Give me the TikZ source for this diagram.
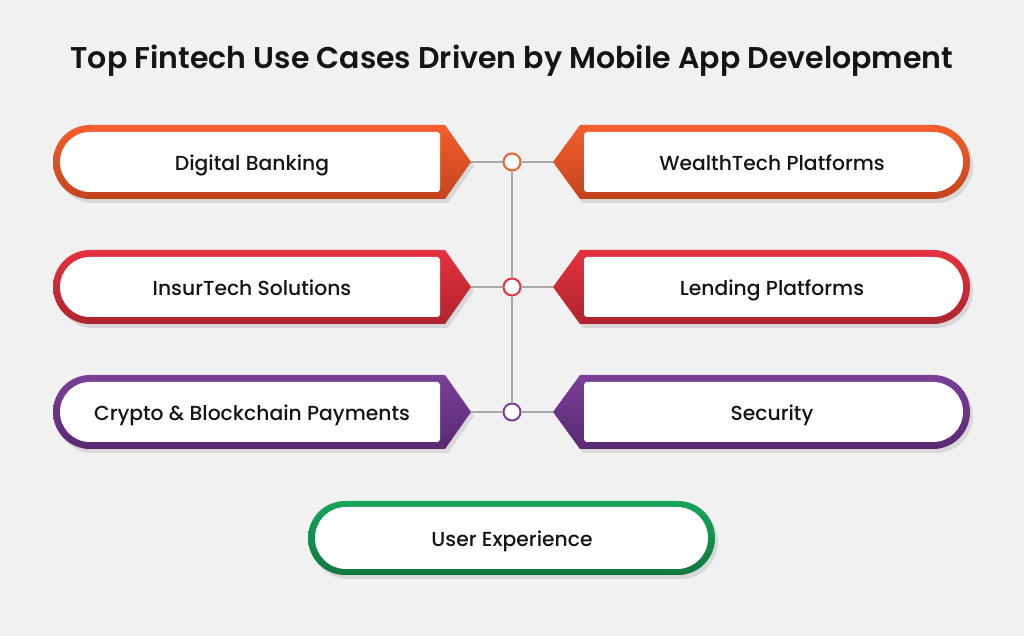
\documentclass[tikz,border=0pt]{standalone}
\usepackage{fontspec}
\setmainfont{Poppins}
\newfontfamily\cardfont{Poppins Medium}
\newfontfamily\headfont{Poppins SemiBold}
\usetikzlibrary{positioning}
\definecolor{pagebg}{HTML}{F1F1F1}
\definecolor{linkgray}{HTML}{A9A9A9}
\definecolor{inktext}{HTML}{141414}
\definecolor{orangeA}{HTML}{F55E2C}
\definecolor{orangeB}{HTML}{C3441E}
\definecolor{redA}{HTML}{E5323F}
\definecolor{redB}{HTML}{AE242E}
\definecolor{purpleA}{HTML}{7B3F98}
\definecolor{purpleB}{HTML}{592A72}
\definecolor{greenA}{HTML}{17A65A}
\definecolor{greenB}{HTML}{0F7840}
\tikzset{
  cardtext/.style={font=\cardfont\fontsize{20.3}{24}\selectfont,text=inktext,anchor=base},
  hub/.style={circle,draw=#1,line width=2pt,fill=white,minimum size=17pt,inner sep=0pt},
  link/.style={draw=linkgray,line width=1.2pt},
  cardshadow/.style={fill=black,opacity=0.10},
}
% card pointing right, to the spine
\newcommand{\leftcard}[4]{%
  \fill[cardshadow] (93,{#2+33}) -- (448,{#2+33}) -- (474,{#2-4}) -- (448,{#2-41})
    -- (93,{#2-41}) arc[start angle=270,end angle=90,radius=37pt] -- cycle;
  \shade[top color=#3A,bottom color=#3B] (90,{#2+37}) -- (445,{#2+37})
    -- (471,#2) coordinate (#1-tip) -- (445,{#2-37})
    -- (90,{#2-37}) arc[start angle=270,end angle=90,radius=37pt] -- cycle;
  \fill[white] (90,{#2+30}) [rounded corners=3pt] -- (440,{#2+30}) -- (440,{#2-30})
    [sharp corners] -- (90,{#2-30}) arc[start angle=270,end angle=90,radius=30pt] -- cycle;
  \node[cardtext] (#1) at (252,{#2-8.5}) {#4};
}
% card pointing left, to the spine
\newcommand{\rightcard}[4]{%
  \fill[cardshadow] (556,{#2-4}) -- (583,{#2+33}) -- (936,{#2+33})
    arc[start angle=90,end angle=-90,radius=37pt] -- (583,{#2-41}) -- cycle;
  \shade[top color=#3A,bottom color=#3B] (553,#2) coordinate (#1-tip) -- (580,{#2+37})
    -- (933,{#2+37}) arc[start angle=90,end angle=-90,radius=37pt] -- (580,{#2-37}) -- cycle;
  \fill[white] (933,{#2-30}) [rounded corners=3pt] -- (584,{#2-30}) -- (584,{#2+30})
    [sharp corners] -- (933,{#2+30}) arc[start angle=90,end angle=-90,radius=30pt] -- cycle;
  \node[cardtext] (#1) at (772,{#2-8.5}) {#4};
}

\begin{document}
\begin{tikzpicture}[x=1pt,y=1pt]
  \fill[pagebg] (0,0) rectangle (1024,636);
  \useasboundingbox (0,0) rectangle (1024,636);

  \node[font=\headfont\fontsize{30}{36}\selectfont,text=inktext,anchor=base] (title) at (512,567)
    {Top Fintech Use Cases Driven by Mobile App Development};

  \leftcard{banking}{474}{orange}{Digital Banking}
  \rightcard{wealth}{474}{orange}{WealthTech Platforms}
  \leftcard{insur}{349}{red}{InsurTech Solutions}
  \rightcard{lending}{349}{red}{Lending Platforms}
  \leftcard{crypto}{224}{purple}{Crypto \& Blockchain Payments}
  \rightcard{security}{224}{purple}{Security}

  % bottom pill
  \fill[cardshadow,rounded corners=37pt] (311,57) rectangle (718,131);
  \shade[top color=greenA,bottom color=greenB,rounded corners=37pt] (308,61) rectangle (715,135);
  \fill[white,rounded corners=31pt] (315,67) rectangle (708,129);
  \node[cardtext] (ux) at (512,89.5) {User Experience};

  % spine
  \node[hub=orangeA] (hub1) at (512,474) {};
  \node[hub=redA]    (hub2) at (512,349) {};
  \node[hub=purpleA] (hub3) at (512,224) {};
  \draw[link] (banking-tip) -- (hub1) -- (wealth-tip);
  \draw[link] (insur-tip) -- (hub2) -- (lending-tip);
  \draw[link] (crypto-tip) -- (hub3) -- (security-tip);
  \draw[link] (hub1) -- (hub2) -- (hub3);
\end{tikzpicture}
\end{document}
